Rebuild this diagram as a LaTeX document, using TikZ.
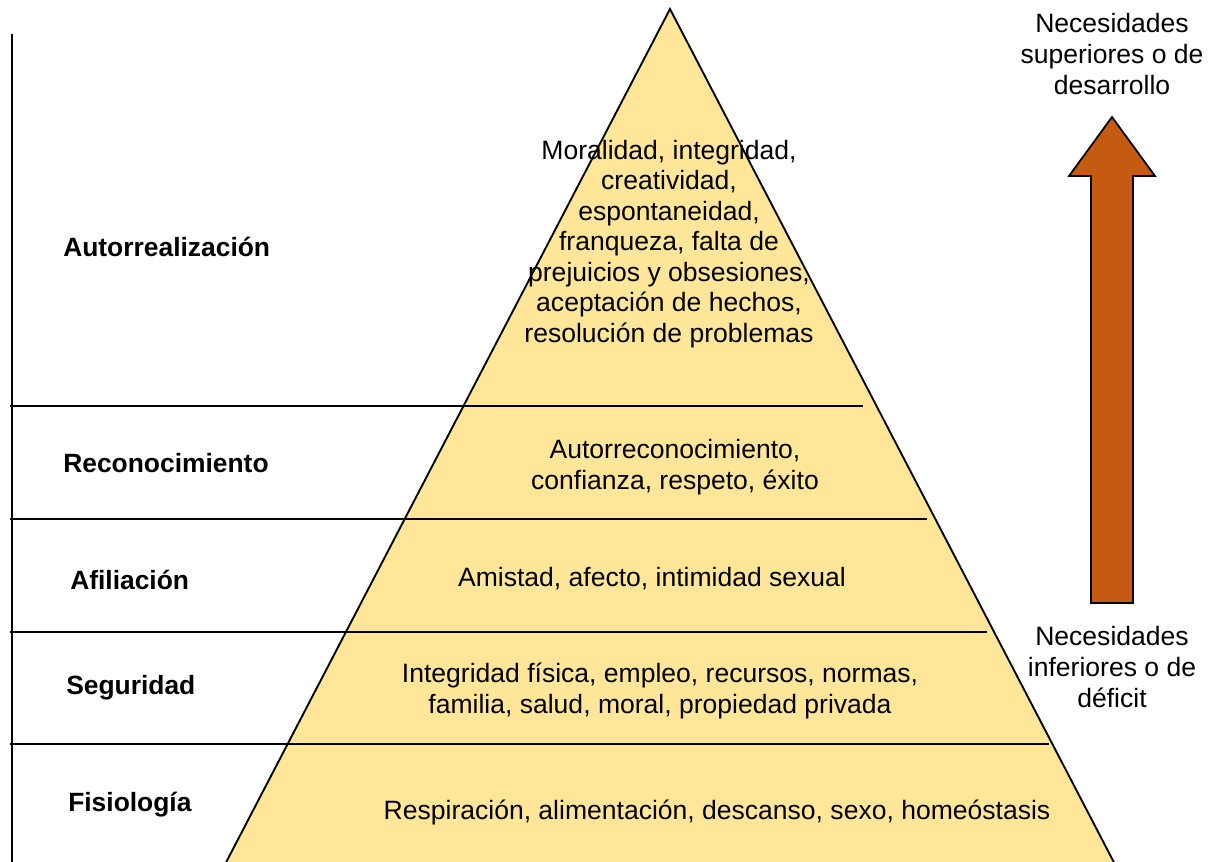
\documentclass[tikz,border=0pt]{standalone}
\usepackage{fontspec}
\setmainfont{Liberation Sans}
\definecolor{pyrfill}{HTML}{FFE699}
\definecolor{arrowfill}{HTML}{C55A11}
\begin{document}
\begin{tikzpicture}[x=0.75pt,y=-0.75pt,
  txt/.style={font=\fontsize{19.9}{22.9}\selectfont, align=center, inner sep=0pt},
  lvl/.style={font=\fontsize{19.8}{22.9}\selectfont\bfseries, anchor=west, inner sep=0pt},
  divider/.style={line width=1.2pt},
  edge/.style={line width=1.4pt}]
\useasboundingbox (0,0) rectangle (1216,861);
\clip (0,0) rectangle (1216,861);
% pyramid corners (base lies below the lower border)
\coordinate (apex) at (670,9);
\coordinate (bl) at (220,874);
\coordinate (br) at (1120,874);
\fill[pyrfill] (apex) -- (bl) -- (br) -- cycle;
\draw[edge] (bl) -- (apex) -- (br);
% left axis
\coordinate (axtop) at (12,34);
\coordinate (axbot) at (12,870);
\draw[edge] (axtop) -- (axbot);
% level dividers
\coordinate (d1a) at (10,406); \coordinate (d1b) at (863,406);
\coordinate (d2a) at (10,519); \coordinate (d2b) at (927,519);
\coordinate (d3a) at (10,632); \coordinate (d3b) at (987,632);
\coordinate (d4a) at (10,744); \coordinate (d4b) at (1049,744);
\draw[divider] (d1a) -- (d1b);
\draw[divider] (d2a) -- (d2b);
\draw[divider] (d3a) -- (d3b);
\draw[divider] (d4a) -- (d4b);
% level names
\node[lvl] (l1) at (63,247) {Autorrealización};
\node[lvl] (l2) at (63,463) {Reconocimiento};
\node[lvl] (l3) at (70,580) {Afiliación};
\node[lvl] (l4) at (66,688) {Seguridad};
\node[lvl] (l5) at (68,805) {Fisiología};
% needs in each level
\node[txt] (t1) at (669,244) {Moralidad, integridad,\\creatividad,\\espontaneidad,\\franqueza, falta de\\prejuicios y obsesiones,\\aceptación de hechos,\\resolución de problemas};
\node[txt] (t2) at (675,467) {Autorreconocimiento,\\confianza, respeto, éxito};
\node[txt] (t3) at (652,579) {Amistad, afecto, intimidad sexual};
\node[txt] (t4) at (660,691) {Integridad física, empleo, recursos, normas,\\familia, salud, moral, propiedad privada};
\node[txt] (t5) at (717,812) {Respiración, alimentación, descanso, sexo, homeóstasis};
% direction arrow
\draw[line width=1.3pt, fill=arrowfill]
  (1091,603) -- (1091,176) -- (1069,176) -- (1112,117) -- (1155,176)
  -- (1133,176) -- (1133,603) -- cycle;
\node[txt] (up) at (1112,54) {Necesidades\\superiores o de\\desarrollo};
\node[txt] (down) at (1112,667) {Necesidades\\inferiores o de\\déficit};
\end{tikzpicture}
\end{document}
